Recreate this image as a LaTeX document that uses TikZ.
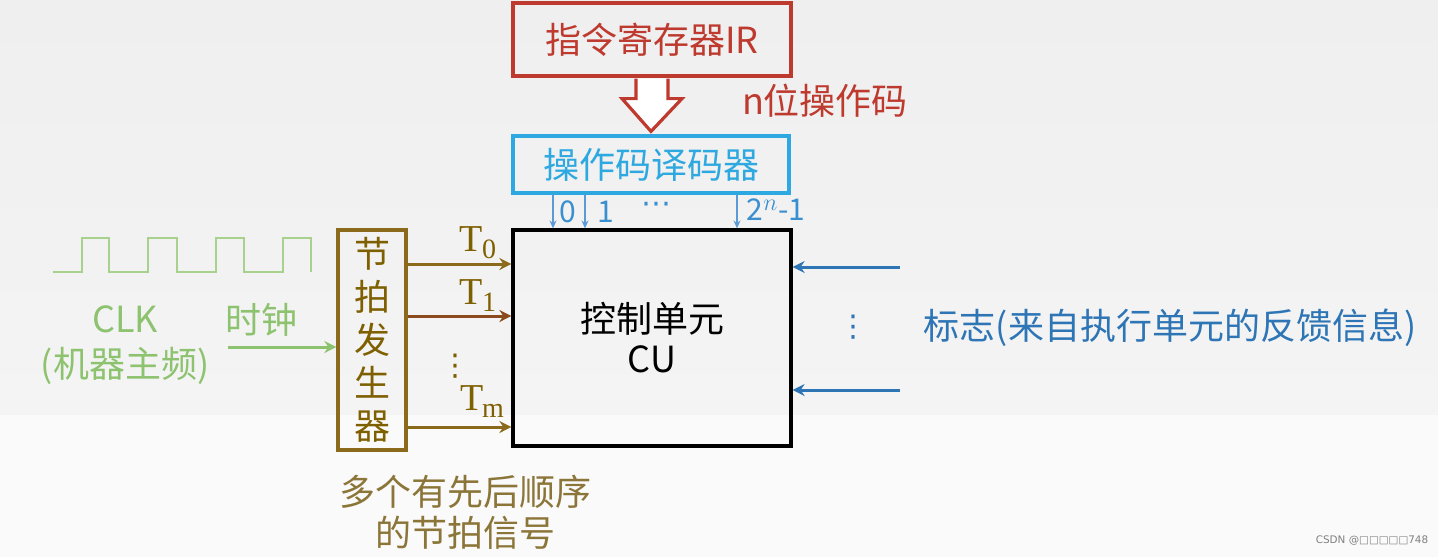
\documentclass[tikz,border=0pt]{standalone}
\usepackage{fontspec}
\setmainfont{Noto Sans CJK SC}
\newfontfamily\serifT{Liberation Serif}
\newfontfamily\markfont{DejaVu Sans}
\usepackage{tikz}
\usetikzlibrary{calc,positioning,arrows.meta}
\definecolor{ctlred}{HTML}{BE3A2E}
\definecolor{ctlcyan}{HTML}{2EA8E0}
\definecolor{ctltap}{HTML}{5B9BD5}
\definecolor{ctltaptext}{HTML}{3A8FD0}
\definecolor{ctlgold}{HTML}{8C6A1C}
\definecolor{ctlgoldtext}{HTML}{7F6000}
\definecolor{ctlnote}{HTML}{8B7538}
\definecolor{ctlbrown}{HTML}{8B4A1E}
\definecolor{ctlgreen}{HTML}{8DC26F}
\definecolor{ctlwave}{HTML}{A9D18E}
\definecolor{ctlblue}{HTML}{2E75B6}
\definecolor{ctlbgtop}{HTML}{EFEFEF}
\definecolor{ctlbgmid}{HTML}{F4F4F4}
\definecolor{ctlbgbot}{HTML}{FAFAFA}
\newcommand{\cnsize}{\fontsize{18}{21.5}\selectfont}
\newcommand{\tsig}[1]{{\serifT\fontsize{19}{19}\selectfont T\kern-0.5pt\raisebox{-0.4ex}{\fontsize{14}{14}\selectfont #1}}}

\begin{document}
\begin{tikzpicture}[x=0.5pt,y=-0.5pt,
  unitbox/.style={draw=#1, line width=1.6pt, inner sep=0pt, align=center, font=\cnsize},
  label/.style={text=#1, font=\cnsize, inner sep=0pt, align=center},
  pulse/.style={draw=#1, line width=1.5pt, -{Stealth[length=6pt,width=6pt]}},
  taparrow/.style={draw=ctltap, line width=0.7pt, -{Stealth[length=4pt,width=3.5pt]}},
  taplabel/.style={text=ctltaptext, font=\fontsize{15}{15}\selectfont, inner sep=0pt},
  dotsmark/.style={text=#1, font=\markfont\fontsize{15}{15}\selectfont, inner sep=0pt}
]
  % background
  \useasboundingbox (0,0) rectangle (1438,557);
  \shade[top color=ctlbgtop, bottom color=ctlbgmid] (0,0) rectangle (1438,415);
  \fill[ctlbgbot] (0,415) rectangle (1438,557);

  % instruction register and decoder
  \node[unitbox=ctlred, text=ctlred, minimum width=139pt, minimum height=36.5pt] (ir) at (652,39.5) {指令寄存器IR};
  \node[unitbox=ctlcyan, text=ctlcyan, minimum width=138pt, minimum height=28.5pt] (dec) at (651,164.5) {操作码译码器};
  \draw[ctlred, line width=1.6pt, fill=white, line join=miter]
    ($(ir.south)+(-16,1)$) -- ++(0,20) -- ++(-14,0) -- ($(dec.north)+(0,-3)$)
    -- ($(ir.south)+(30,21)$) -- ++(-14,0) -- ($(ir.south)+(16,1)$);
  \node[label=ctlred] (opcode) at (825,101) {n位操作码};

  % control unit
  \node[unitbox=black, minimum width=139pt, minimum height=108pt, font=\fontsize{18}{20}\selectfont] (cu) at (652,338) {控制单元\\CU};

  % decoder outputs
  \foreach \px in {553,585,737}
    \draw[taparrow] (dec.south -| \px,0) -- (cu.north -| \px,0);
  \node[taplabel] (out0) at (568,212) {0};
  \node[taplabel] (out1) at (606,212) {1};
  \node[dotsmark=ctltaptext] (outdots) at (656,208) {⋯};
  \node[taplabel] (outlast) at (776,210) {2\textsuperscript{\fontsize{13}{13}\selectfont$n$}-1};

  % timing generator
  \node[unitbox=ctlgold, text=ctlgoldtext, minimum width=34pt, minimum height=110pt] (gen) at (372,340) {节\\拍\\发\\生\\器};
  \draw[pulse=ctlgold] (gen.east |- 0,264) -- (cu.west |- 0,264);
  \draw[pulse=ctlbrown] (gen.east |- 0,316) -- (cu.west |- 0,316);
  \draw[pulse=ctlgold] (gen.east |- 0,427) -- (cu.west |- 0,427);
  \node[text=ctlgoldtext, inner sep=0pt] (t0) at (478,243) {\tsig{0}};
  \node[text=ctlgoldtext, inner sep=0pt] (t1) at (478,296) {\tsig{1}};
  \node[dotsmark=ctlgoldtext] (tdots) at (455,366) {⋮};
  \node[text=ctlgoldtext, inner sep=0pt] (tm) at (482,402) {\tsig{m}};
  \node[label=ctlnote, font=\fontsize{18}{20.5}\selectfont] (beats) at (465,512) {多个有先后顺序\\的节拍信号};

  % clock
  \draw[ctlwave, line width=0.8pt] (53,272) -- (82,272) -- (82,238) -- (109,238) -- (109,272)
    -- (148,272) -- (148,238) -- (177,238) -- (177,272) -- (216,272) -- (216,238)
    -- (244,238) -- (244,272) -- (283,272) -- (283,238) -- (311,238) -- (311,272);
  \node[label=ctlgreen, font=\fontsize{18}{22.5}\selectfont] (clk) at (125,345) {CLK\\(机器主频)};
  \node[label=ctlgreen] (clock) at (261,320) {时钟};
  \coordinate (clkin) at (228,347);
  \draw[pulse=ctlgreen] (clkin) -- (clkin -| gen.west);

  % flags
  \coordinate (flag1) at (900,267);
  \coordinate (flag2) at (900,390);
  \draw[pulse=ctlblue] (flag1) -- (flag1 -| cu.east);
  \draw[pulse=ctlblue] (flag2) -- (flag2 -| cu.east);
  \node[dotsmark=ctlblue] (flagdots) at (853,327) {⋮};
  \node[label=ctlblue] (flags) at (1170,328) {标志(来自执行单元的反馈信息)};

  \node[text=gray, font=\markfont\fontsize{5.2}{6}\selectfont, inner sep=0pt] (mark) at (1372,541) {CSDN @□□□□□748};
\end{tikzpicture}
\end{document}
